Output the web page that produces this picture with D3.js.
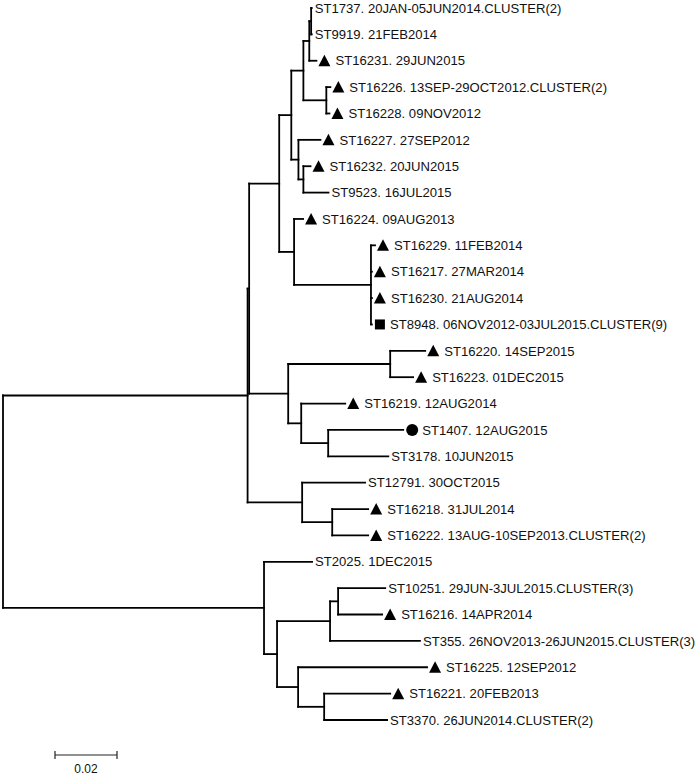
<!DOCTYPE html>
<html><head><meta charset="utf-8">
<script src="https://cdn.jsdelivr.net/npm/d3@7"></script>
<style>body{margin:0;background:#fff}svg{display:block}</style>
</head><body>
<svg id="c" width="700" height="775"></svg>
<script>
// Tree topology with branch lengths (substitutions/site)
const newick = "((((((((ST1737:0.0002,ST9919:0.0002):0.0006,ST16231:0.0023):0.0019,(ST16226:0.0013,ST16228:0.0010):0.0074):0.0039,(ST16227:0.0071,(ST16232:0.0023,ST9523:0.0081):0.0016):0.0023):0.0039,(ST16224:0.0029,(ST16229:0.0013,ST16217:0.0003,ST16230:0.0003,ST8948:0.0003):0.0248):0.0048):0.0097,((ST16220:0.0113,ST16223:0.0074):0.0329,(ST16219:0.0142,(ST1407:0.0242,ST3178:0.0194):0.0087):0.0042):0.0126):0.0005,(ST12791:0.0203,(ST16218:0.0116,ST16222:0.0116):0.0097):0.0176):0.0789,(ST2025:0.0155,(((ST10251:0.0152,ST16216:0.0142):0.0026,ST355:0.0290):0.0171,(ST16225:0.0416,(ST16221:0.0213,ST3370:0.0203):0.0084):0.0068):0.0042):0.0842);";

const leafIds = ["ST1737","ST9919","ST16231","ST16226","ST16228","ST16227","ST16232","ST9523","ST16224","ST16229","ST16217","ST16230","ST8948","ST16220","ST16223","ST16219","ST1407","ST3178","ST12791","ST16218","ST16222","ST2025","ST10251","ST16216","ST355","ST16225","ST16221","ST3370"];
const leafDates = ["20JAN-05JUN2014.CLUSTER(2)","21FEB2014","29JUN2015","13SEP-29OCT2012.CLUSTER(2)","09NOV2012","27SEP2012","20JUN2015","16JUL2015","09AUG2013","11FEB2014","27MAR2014","21AUG2014","06NOV2012-03JUL2015.CLUSTER(9)","14SEP2015","01DEC2015","12AUG2014","12AUG2015","10JUN2015","30OCT2015","31JUL2014","13AUG-10SEP2013.CLUSTER(2)","1DEC2015","29JUN-3JUL2015.CLUSTER(3)","14APR2014","26NOV2013-26JUN2015.CLUSTER(3)","12SEP2012","20FEB2013","26JUN2014.CLUSTER(2)"];
const leafMarkers = ["","","tri","tri","tri","tri","tri","","tri","tri","tri","tri","sq","tri","tri","tri","circ","","","tri","tri","","","tri","","tri","tri",""];
const scaleBarValue = 0.02;
const scaleBarLabel = "0.02";

// Newick parser
function parseNewick(s){
  let i=0;
  function node(){
    const n={children:[],name:"",len:0};
    if(s[i]==="("){
      i++;
      n.children.push(node());
      while(s[i]===","){i++;n.children.push(node());}
      i++; // ')'
    }
    let name="";
    while(i<s.length && !",():;".includes(s[i])){name+=s[i++];}
    n.name=name;
    if(s[i]===":"){i++;let l="";while(i<s.length && !",();".includes(s[i])){l+=s[i++];}n.len=+l;}
    if(!n.children.length) delete n.children;
    return n;
  }
  return node();
}

const root = d3.hierarchy(parseNewick(newick));
root.eachBefore(d=>{ d.dist = d.parent ? d.parent.dist + d.data.len : 0; });

const x = d3.scaleLinear().domain([0, scaleBarValue]).range([3, 65]);
const y = d3.scalePoint().domain(leafIds).range([8, 720]);

root.eachAfter(d=>{
  if(!d.children){ d.py = y(d.data.name); }
  else { d.py = (d.children[0].py + d.children[d.children.length-1].py)/2; }
  d.px = x(d.dist);
});

const svg = d3.select("#c");
const g = svg.append("g");
const stroke = "#000", sw = 1.8;

// horizontal branches
g.selectAll("line.h").data(root.descendants().filter(d=>d.parent)).join("line")
  .attr("x1",d=>d.parent.px).attr("x2",d=>d.px)
  .attr("y1",d=>d.py).attr("y2",d=>d.py)
  .attr("stroke",stroke).attr("stroke-width",sw).attr("stroke-linecap","square");
// vertical connectors
g.selectAll("line.v").data(root.descendants().filter(d=>d.children)).join("line")
  .attr("x1",d=>d.px).attr("x2",d=>d.px)
  .attr("y1",d=>d.children[0].py).attr("y2",d=>d.children[d.children.length-1].py)
  .attr("stroke",stroke).attr("stroke-width",sw).attr("stroke-linecap","square");

// leaves
const leaves = root.leaves();
const lg = g.selectAll("g.leaf").data(leaves).join("g")
  .attr("transform",d=>`translate(${d.px},${d.py})`);
lg.each(function(d){
  const idx = leafIds.indexOf(d.data.name);
  const m = leafMarkers[idx];
  const sel = d3.select(this);
  let tx = 3;
  if(m==="tri"){
    sel.append("path").attr("d","M2,5.5 L14,5.5 L8,-6 Z").attr("fill","#000");
    tx = 19;
  } else if(m==="sq"){
    sel.append("rect").attr("x",3).attr("y",-5).attr("width",10).attr("height",10).attr("fill","#000");
    tx = 18;
  } else if(m==="circ"){
    sel.append("circle").attr("cx",9).attr("cy",0).attr("r",6).attr("fill","#000");
    tx = 19;
  }
  sel.append("text").attr("x",tx).attr("y",0).attr("dy","0.36em")
    .attr("font-family","'Liberation Sans', Arial, Helvetica, sans-serif")
    .attr("font-size",13.1).attr("fill","#111")
    .text(d.data.name + ". " + leafDates[idx]);
});

// scale bar
const sb = svg.append("g").attr("transform","translate(55,755)");
const x0 = x(0), x1 = x(scaleBarValue);
sb.append("line").attr("x1",0).attr("x2",x1-x0).attr("y1",0).attr("y2",0).attr("stroke","#222").attr("stroke-width",1.2);
sb.append("line").attr("x1",0).attr("x2",0).attr("y1",-4).attr("y2",4).attr("stroke","#222").attr("stroke-width",1.2);
sb.append("line").attr("x1",x1-x0).attr("x2",x1-x0).attr("y1",-4).attr("y2",4).attr("stroke","#222").attr("stroke-width",1.2);
sb.append("text").attr("x",(x1-x0)/2).attr("y",18).attr("text-anchor","middle")
  .attr("font-family","'Liberation Sans', Arial, sans-serif").attr("font-size",12).attr("fill","#111").text(scaleBarLabel);
</script>
</body></html>
